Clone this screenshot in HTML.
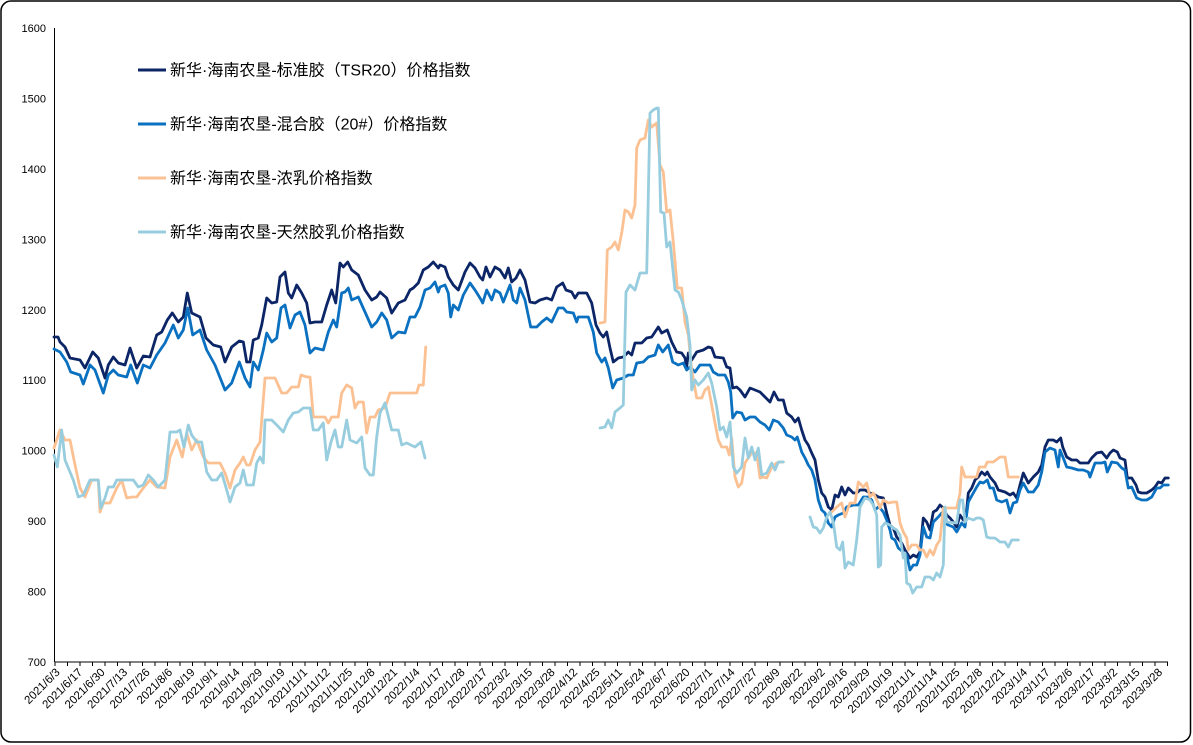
<!DOCTYPE html>
<html>
<head>
<meta charset="utf-8">
<style>
  html,body{margin:0;padding:0;background:#fff;}
  body{width:1193px;height:745px;overflow:hidden;}
  svg{display:block;}
  .yl{font-family:"Liberation Sans",Arial,sans-serif;font-size:11px;fill:#000;text-anchor:end;}
  .xl{font-family:"Liberation Sans",Arial,sans-serif;font-size:11.5px;fill:#000;text-anchor:end;}
  .lg{font-family:"Liberation Sans","Noto Sans CJK SC","WenQuanYi Zen Hei",sans-serif;font-size:16px;fill:#000;}
  .s{fill:none;stroke-width:2.8;stroke-linejoin:round;stroke-linecap:round;}
</style>
</head>
<body>
<svg width="1193" height="745" viewBox="0 0 1193 745" xmlns="http://www.w3.org/2000/svg">
  <rect x="1" y="1" width="1189.5" height="741" rx="10" ry="10" fill="#fff" stroke="#000" stroke-width="1.5"/>

  <g class="yl">
    <text x="46" y="32">1600</text>
    <text x="46" y="102.4">1500</text>
    <text x="46" y="172.9">1400</text>
    <text x="46" y="243.3">1300</text>
    <text x="46" y="313.8">1200</text>
    <text x="46" y="384.2">1100</text>
    <text x="46" y="454.7">1000</text>
    <text x="46" y="525.1">900</text>
    <text x="46" y="595.6">800</text>
    <text x="46" y="666">700</text>
  </g>

  <line x1="54.5" y1="28" x2="54.5" y2="662" stroke="#000" stroke-width="1"/>
  <line x1="54.5" y1="662" x2="1168" y2="662" stroke="#000" stroke-width="1"/>

  <polyline class="s" stroke="#0B2566" points="54,337 58,337 60,342 65,347 70,358 80,360 85,368 92.7,352 98.3,358 105,378 108.3,365 113.3,357 118.3,363 125,365 130,348 136.7,368 143.3,356 150,357 156.7,335 161.7,332 167.3,320 172.3,313 178.3,322 183.3,317 187.3,293 191.7,313 200,317 206,338 213.3,345 220.7,347 225,362 231.7,347 239.3,341 243.3,342 246.7,362 250,362 253.3,340 258.3,338 261.7,325 266.7,298 271.7,303 276.7,302 280,277 285,272 288.3,293 291.7,298 296.7,285 301.7,293 306.7,303 310,323 315,322 321.7,322 326.7,305 331.7,290 335.7,303 340,263 343.3,267 347.7,262 351.7,270 358.3,275 365,290 371.7,300 376.7,297 380,292 386.7,298 391.7,313 398.3,303 405,300 410,290 413.3,288 418.3,283 423.3,270 428.3,267 433.3,262 438.3,268 440,265 445,267 448.3,277 453.3,285 458.3,290 465,272 470,263 475,268 480,277 482.7,280 486,267 490,277 495,267 500,270 505,278 508.3,268 511.7,282 516,278 520,270 525,280 530,302 535,303 540,300 546.7,298 551.7,300 556.7,287 562.7,283 566,290 571.7,292 575,298 578.3,293 586.7,293 591.7,303 596,325 600,333 603.3,337 606.7,332 610,348 613.3,362 618.3,358 623.3,357 628.3,352 631.7,355 635,343 641.7,343 646.7,338 651.7,337 655,332 658.3,327 661.7,333 667.3,330 671.7,342 676.7,352 681.7,353 685,358 686.7,367 688.3,353 691.7,360 696.7,352 703.3,350 708.3,347 711.7,348 715,357 723.3,358 726.7,367 730,368 732.7,388 736.7,387 740,390 745,397 750,388 755,390 760,392 765,397 770,402 774,392 778.3,400 783.3,400 786.7,413 791.7,417 795,422 798.3,418 801.7,430 805,440 808.3,445 811.7,453 815,460 818.3,480 821.7,493 825,497 828.3,507 831.7,510 835,495 838.3,497 841.7,487 845,495 848.3,488 853.3,493 856.7,493 860,490 865,490 870,493 875,495 878.3,497 883.3,498 886.7,513 890,525 893.3,528 896.7,537 901.7,543 905,550 910,558 913.3,555 916.7,557 920,552 923.3,518 926.7,522 930,530 933.3,512 936.7,510 940,505 943.3,508 946.7,515 950,518 953.3,522 956.7,527 960,515 963.3,520 966.7,510 968.3,493 971.7,488 975,480 978.3,477 981.7,472 985,475 987.3,472 990,477 995,483 998.3,490 1005,492 1010,495 1013.3,493 1016.7,498 1020,485 1023.3,473 1028.3,483 1033.3,477 1038.3,472 1041.7,465 1045,447 1048.3,440 1053.3,440 1056.7,442 1060.7,438 1062.7,447 1066.7,457 1071.7,460 1076.7,460 1080,463 1088.3,463 1091.7,458 1096.7,453 1101.7,452 1106.7,458 1110,453 1113.3,450 1117.3,452 1120,458 1125,460 1127.3,478 1131.7,478 1136,485 1138.3,492 1141.7,493 1146.7,493 1151.7,490 1155,487 1158.3,482 1161.7,483 1165,478 1168.3,478"/>

  <polyline class="s" stroke="#0A70C0" points="54,349 60,352 66.7,362 70.7,372 80,375 83.3,384 90,365 95,370 103.3,393 108.3,375 113.3,370 118.3,375 126.7,377 130.7,365 137.3,383 143.3,365 150,368 156.7,355 165,343 173.3,325 178.3,338 183.3,330 187.7,308 192.7,335 200,330 206.7,350 215,365 225,390 231.7,383 239.3,362 245,378 250,387 253.3,362 258.3,370 263.3,350 266.7,333 271.7,342 276.7,338 281,308 285,305 290,328 295,315 300,312 305,325 310,353 315,348 323.3,350 328.3,332 333.3,320 336.7,327 341.7,293 345,292 348.3,288 351.7,300 358.3,297 365,312 371.7,327 376.7,322 381.7,313 386.7,320 391.7,338 398.3,332 405,333 410,317 415,317 420,307 425,290 430,288 435,282 438.3,292 440,287 445,285 448.3,293 450.7,317 453.3,305 458.3,310 463.3,295 470,283 475,290 480,298 482.7,303 486.7,290 491.7,300 495,290 500,293 503.3,302 510,285 513.3,300 516.7,303 520,288 525,300 530.7,327 536.7,327 541.7,322 546.7,318 551.7,322 558.3,308 563.3,308 566.7,312 573.3,313 576.7,322 578.3,317 588.3,317 593.3,332 596.7,353 601.7,362 605,358 608.3,368 612.7,388 616.7,380 623.3,378 628.3,375 633.3,375 636.7,363 643.3,362 648.3,357 655,355 658.3,345 662.7,352 668.3,345 672.7,362 678.3,365 683.3,363 686.7,370 690,367 695,372 700,365 705,365 710,365 713.3,372 718.3,375 725,375 728.3,382 730.7,392 732.7,418 736.7,412 741.7,413 745,420 750,417 755,417 760,422 765,425 769.3,430 773.3,420 778.3,422 783.3,428 786.7,435 791.7,437 795,440 797.3,437 801.7,452 805,458 808.3,465 811.7,470 815,480 818.3,500 821.7,510 825,513 828.3,523 831.7,527 835,517 838.3,515 843.3,513 846.7,507 853.3,505 858.3,505 863.3,497 868.3,497 871.7,500 875,510 878.3,507 880,508 883.3,512 886.7,520 890,530 891.7,538 895,540 898.3,548 903.3,552 906.7,555 910,570 913.3,565 916.7,565 920,555 923.3,527 926.7,537 930,538 933.3,522 938.3,517 941.7,513 945,523 948.3,525 953.3,527 956.7,532 961.7,523 965,527 968.3,502 973.3,493 976.7,487 980,482 983.3,483 987.3,480 990,488 993.3,488 996.7,500 1001.7,502 1006.7,500 1010,513 1013.3,503 1016.7,502 1020,490 1023.3,483 1028.3,492 1033.3,492 1038.3,485 1041.7,472 1045,452 1050,448 1055,450 1058.3,467 1060,450 1063.3,458 1066.7,467 1071.7,468 1078.3,470 1083.3,470 1088.3,472 1090,477 1095,463 1101.7,463 1105,462 1107.3,472 1111.7,462 1117.3,463 1121.7,468 1125,470 1128.3,488 1131.7,487 1136.7,498 1141.7,500 1146.7,500 1151.7,497 1156.7,488 1160,488 1163.3,485 1168.3,485"/>

  <g stroke="#FBC193" class="s">
    <polyline class="s" points="54,448 60,430 65,440 70,440 75,465 80,488 85,497 91.7,480 98.3,480 100,512 103.3,503 110,503 116.7,488 121.7,480 126.7,498 131.7,497 136.7,497 143.3,488 150,480 156.7,487 165,488 170,457 176.7,440 182.3,457 186.7,433 191.7,450 196.7,440 203.3,457 208.3,463 220,463 225,473 230,488 235,470 240,463 243.3,457 246.7,465 250,465 255,450 260,442 265,378 275,378 281.7,393 286.7,393 291.7,387 298.3,387 301,375 306.7,377 310,377 313.3,417 325,417 328.3,423 331.7,417 338.3,417 341.7,393 346.7,385 351.7,388 355,408 358.3,402 363.3,402 366.7,433 370,417 375,417 378.3,410 385,408 390,393 416.7,393 419,385 423.3,385 425.7,347"/>
    <polyline class="s" points="600,323 605,322 607.3,250 611.7,247 615,242 618.3,250 621.7,233 625,210 628.3,212 631.7,218 635,205 636.7,148 640,140 645,138 648.3,120 651.7,127 656.7,123 660,165 663.3,172 666.7,212 670,210 673.3,242 677.3,288 681.7,288 685,322 688.3,335 691.7,370 696.7,398 701.7,398 705,390 708.3,387 711.7,405 715,423 718.3,440 721.7,447 726.7,447 729.3,455 731.7,438 735,477 738.3,487 741.7,483 745,463 748.3,458 751.7,453 756.7,453 760,478 763.3,477 766.7,478 771.7,467 776.7,463 780,462 783.3,462"/>
    <polyline class="s" points="831.7,512 836.7,507 841.7,503 845,517 850,503 855,503 858.3,482 863.3,487 866.7,483 870,497 873.3,493 878.3,503 880,508 883.3,500 888.3,503 893.3,502 896.7,502 900,523 903.3,532 906.7,538 908.3,550 911.7,545 916.7,545 920,550 923.3,550 926.7,557 930,550 933.3,555 936.7,545 940,540 943.3,508 956.7,508 960,493 961.7,467 965,477 976.7,477 979.3,467 985,467 987.3,462 993.3,462 1000,457 1005,457 1008.3,477 1018.3,477"/>
  </g>

  <g stroke="#97CDDE" class="s">
    <polyline class="s" points="54,455 57.3,467 61.7,430 65,460 73.3,480 78.3,497 83.3,495 90,480 98.3,480 100.7,508 105,498 108.3,487 113.3,487 116.7,480 133.3,480 138.3,487 143.3,485 148.3,475 153.3,480 158.3,487 165,480 170,432 176.7,432 180,430 184,447 188.3,425 191.7,435 196.7,442 201.7,442 206.7,472 211.7,480 216.7,480 221.7,473 226.7,490 230,502 235,487 240,483 243.3,470 246.7,485 253.3,485 256.7,463 260,457 263.3,463 265,420 271.7,420 276.7,425 283.3,432 288.3,420 293.3,413 298.3,412 303.3,408 310,408 313.3,430 318.3,430 323.3,423 326.7,460 331,442 335,430 338.3,447 341.7,447 346.7,420 350,440 356.7,443 361.7,437 365,468 370,475 373.3,475 376.7,437 380,413 385,403 391.7,430 398.3,430 401.7,445 406.7,443 415,447 421,442 425,458"/>
    <polyline class="s" points="600,428 605,427 608.3,420 611.7,428 615,412 620,408 623.3,405 626,292 630,285 635,290 640,273 646.7,273 650,113 653.3,110 656.7,108 658.3,108 660.7,212 664,213 666.7,247 670,242 675,290 678.3,292 681.7,300 686.7,317 690,345 691.7,390 695,380 698.3,385 703.3,380 708.3,373 711.7,383 716.7,407 720,430 723.3,427 726.7,437 730,422 733.3,467 736.7,473 741.7,467 745,438 748.3,458 751.7,447 755,460 758.3,448 761.7,475 766.7,473 771.7,463 775,470 778.3,462 783.3,462"/>
    <polyline class="s" points="810,517 813.3,527 816.7,528 820,533 823.3,528 826.7,517 830,512 833.3,522 836.7,547 840,550 842.7,542 845,568 848.3,562 853.3,565 856.7,540 860,507 865,498 870,500 873.3,505 876.7,515 878.3,567 880.7,565 881.7,527 885,523 890,525 893.3,528 896.7,530 900,535 903.3,558 905,553 906.7,583 910,585 912.7,593 916.7,587 921.7,587 925,577 930,577 933.3,580 936.7,573 940,577 943.3,565 945,507 946.7,522 956.7,523 960,500 962.7,500 965,522 968.3,518 973.3,520 976.7,518 980,518 983.3,520 986.7,537 990,538 995,538 1000,542 1005,542 1008.3,547 1011.7,540 1018.3,540"/>
  </g>

  <line x1="138" y1="70" x2="166" y2="70" stroke="#0B2566" stroke-width="3"/>
  <text class="lg" x="170" y="75.5">新华·海南农垦-标准胶（TSR20）价格指数</text>
  <line x1="138" y1="124" x2="166" y2="124" stroke="#0A70C0" stroke-width="3"/>
  <text class="lg" x="170" y="129.5">新华·海南农垦-混合胶（20#）价格指数</text>
  <line x1="138" y1="178" x2="166" y2="178" stroke="#FBC193" stroke-width="3"/>
  <text class="lg" x="170" y="183.5">新华·海南农垦-浓乳价格指数</text>
  <line x1="138" y1="232" x2="166" y2="232" stroke="#97CDDE" stroke-width="3"/>
  <text class="lg" x="170" y="237.5">新华·海南农垦-天然胶乳价格指数</text>

  <g class="xl">
    <text transform="translate(60.5,673) rotate(-45)">2021/6/3</text>
    <text transform="translate(83,673) rotate(-45)">2021/6/17</text>
    <text transform="translate(105.5,673) rotate(-45)">2021/6/30</text>
    <text transform="translate(128,673) rotate(-45)">2021/7/13</text>
    <text transform="translate(150.5,673) rotate(-45)">2021/7/26</text>
    <text transform="translate(173,673) rotate(-45)">2021/8/6</text>
    <text transform="translate(195.5,673) rotate(-45)">2021/8/19</text>
    <text transform="translate(218,673) rotate(-45)">2021/9/1</text>
    <text transform="translate(240.5,673) rotate(-45)">2021/9/14</text>
    <text transform="translate(263,673) rotate(-45)">2021/9/29</text>
    <text transform="translate(285.5,673) rotate(-45)">2021/10/19</text>
    <text transform="translate(308,673) rotate(-45)">2021/11/1</text>
    <text transform="translate(330.5,673) rotate(-45)">2021/11/12</text>
    <text transform="translate(353,673) rotate(-45)">2021/11/25</text>
    <text transform="translate(375.5,673) rotate(-45)">2021/12/8</text>
    <text transform="translate(398,673) rotate(-45)">2021/12/21</text>
    <text transform="translate(420.5,673) rotate(-45)">2022/1/4</text>
    <text transform="translate(443,673) rotate(-45)">2022/1/17</text>
    <text transform="translate(465.5,673) rotate(-45)">2022/1/28</text>
    <text transform="translate(488,673) rotate(-45)">2022/2/17</text>
    <text transform="translate(510.5,673) rotate(-45)">2022/3/2</text>
    <text transform="translate(533,673) rotate(-45)">2022/3/15</text>
    <text transform="translate(555.5,673) rotate(-45)">2022/3/28</text>
    <text transform="translate(578,673) rotate(-45)">2022/4/12</text>
    <text transform="translate(600.5,673) rotate(-45)">2022/4/25</text>
    <text transform="translate(623,673) rotate(-45)">2022/5/11</text>
    <text transform="translate(645.5,673) rotate(-45)">2022/5/24</text>
    <text transform="translate(668,673) rotate(-45)">2022/6/7</text>
    <text transform="translate(690.5,673) rotate(-45)">2022/6/20</text>
    <text transform="translate(713,673) rotate(-45)">2022/7/1</text>
    <text transform="translate(735.5,673) rotate(-45)">2022/7/14</text>
    <text transform="translate(758,673) rotate(-45)">2022/7/27</text>
    <text transform="translate(780.5,673) rotate(-45)">2022/8/9</text>
    <text transform="translate(803,673) rotate(-45)">2022/8/22</text>
    <text transform="translate(825.5,673) rotate(-45)">2022/9/2</text>
    <text transform="translate(848,673) rotate(-45)">2022/9/16</text>
    <text transform="translate(870.5,673) rotate(-45)">2022/9/29</text>
    <text transform="translate(893,673) rotate(-45)">2022/10/19</text>
    <text transform="translate(915.5,673) rotate(-45)">2022/11/1</text>
    <text transform="translate(938,673) rotate(-45)">2022/11/14</text>
    <text transform="translate(960.5,673) rotate(-45)">2022/11/25</text>
    <text transform="translate(983,673) rotate(-45)">2022/12/8</text>
    <text transform="translate(1005.5,673) rotate(-45)">2022/12/21</text>
    <text transform="translate(1028,673) rotate(-45)">2023/1/4</text>
    <text transform="translate(1050.5,673) rotate(-45)">2023/1/17</text>
    <text transform="translate(1073,673) rotate(-45)">2023/2/6</text>
    <text transform="translate(1095.5,673) rotate(-45)">2023/2/17</text>
    <text transform="translate(1118,673) rotate(-45)">2023/3/2</text>
    <text transform="translate(1140.5,673) rotate(-45)">2023/3/15</text>
    <text transform="translate(1163,673) rotate(-45)">2023/3/28</text>
  </g>

  <path stroke="#000" stroke-width="1" d="M55,662v4M67.5,662v4M80,662v4M92.5,662v4M105,662v4M117.5,662v4M130,662v4M142.5,662v4M155,662v4M167.5,662v4M180,662v4M192.5,662v4M205,662v4M217.5,662v4M230,662v4M242.5,662v4M255,662v4M267.5,662v4M280,662v4M292.5,662v4M305,662v4M317.5,662v4M330,662v4M342.5,662v4M355,662v4M367.5,662v4M380,662v4M392.5,662v4M405,662v4M417.5,662v4M430,662v4M442.5,662v4M455,662v4M467.5,662v4M480,662v4M492.5,662v4M505,662v4M517.5,662v4M530,662v4M542.5,662v4M555,662v4M567.5,662v4M580,662v4M592.5,662v4M605,662v4M617.5,662v4M630,662v4M642.5,662v4M655,662v4M667.5,662v4M680,662v4M692.5,662v4M705,662v4M717.5,662v4M730,662v4M742.5,662v4M755,662v4M767.5,662v4M780,662v4M792.5,662v4M805,662v4M817.5,662v4M830,662v4M842.5,662v4M855,662v4M867.5,662v4M880,662v4M892.5,662v4M905,662v4M917.5,662v4M930,662v4M942.5,662v4M955,662v4M967.5,662v4M980,662v4M992.5,662v4M1005,662v4M1017.5,662v4M1030,662v4M1042.5,662v4M1055,662v4M1067.5,662v4M1080,662v4M1092.5,662v4M1105,662v4M1117.5,662v4M1130,662v4M1142.5,662v4M1155,662v4M1167.5,662v4"/>
</svg>
</body>
</html>
